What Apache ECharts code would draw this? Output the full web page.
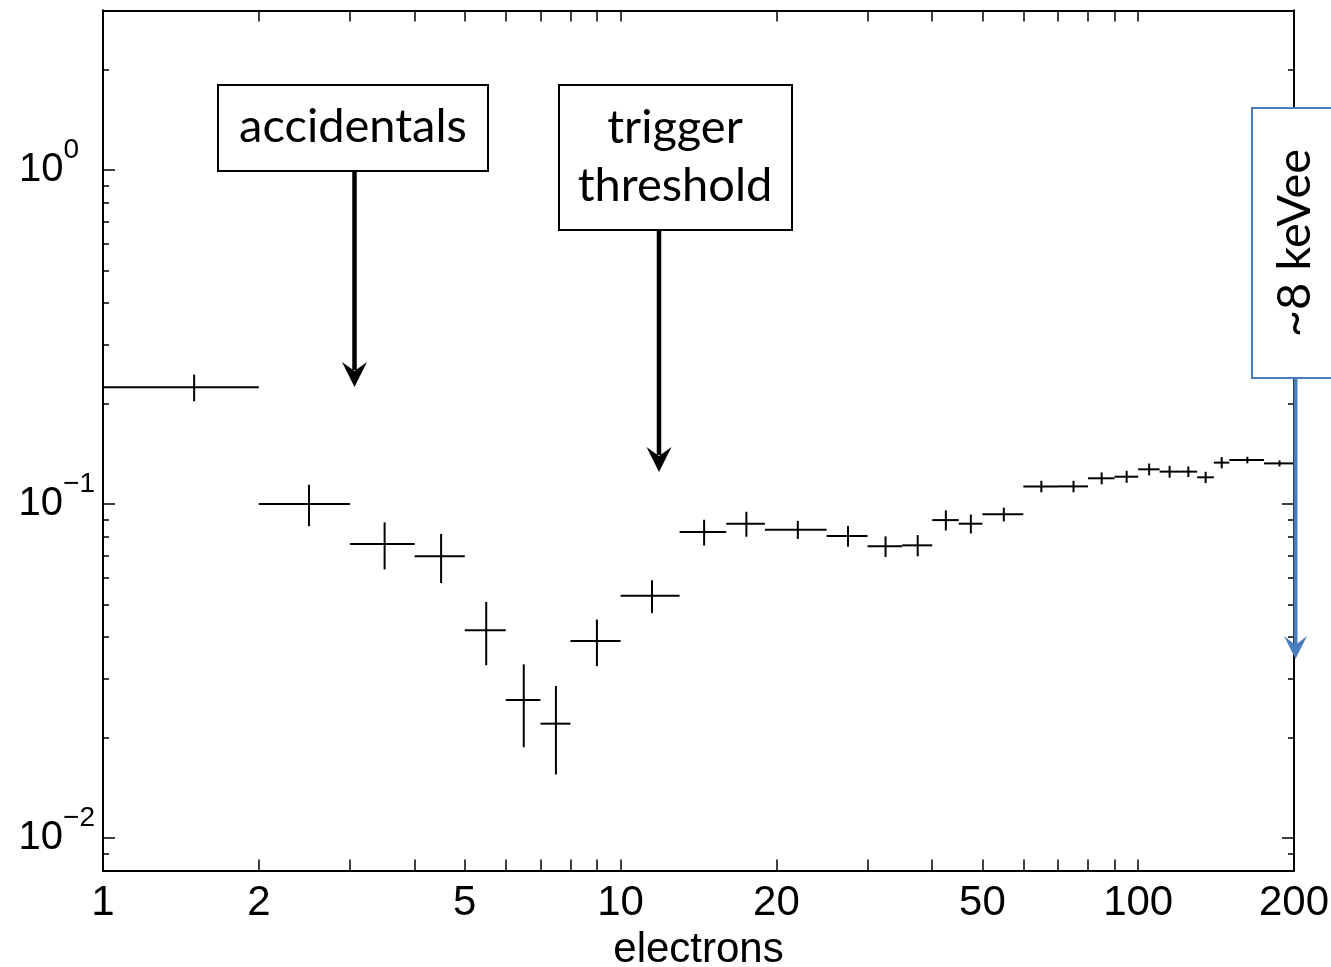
<!DOCTYPE html>
<html><head><meta charset="utf-8">
<script src="https://cdn.jsdelivr.net/npm/echarts@6/dist/echarts.min.js"></script>
<style>html,body{margin:0;padding:0;background:#fff}#c{width:1331px;height:967px}</style>
</head><body><div id="c"></div>
<script>
// ---- data ----
const binLo   = [1, 2, 3, 4, 5, 6, 7, 8, 10, 13, 16, 19, 25, 30, 35, 40, 45, 50, 60, 70, 80, 90, 100, 110, 120, 130, 140, 150, 175];
const binHi   = [2, 3, 4, 5, 6, 7, 8, 10, 13, 16, 19, 25, 30, 35, 40, 45, 50, 60, 70, 80, 90, 100, 110, 120, 130, 140, 150, 175, 200];
const xCenter = [1.5, 2.5, 3.5, 4.5, 5.5, 6.5, 7.5, 9, 11.5, 14.5, 17.5, 22, 27.5, 32.5, 37.5, 42.5, 47.5, 55, 65, 75, 85, 95, 105, 115, 125, 135, 145, 162.5, 187.5];
const yValue  = [0.2235, 0.100, 0.0759, 0.0697, 0.0419, 0.0259, 0.0220, 0.0389, 0.0531, 0.0824, 0.0873, 0.0838, 0.0802, 0.0747, 0.0752, 0.0895, 0.0873, 0.0931, 0.1129, 0.1129, 0.1194, 0.1207, 0.127, 0.125, 0.125, 0.1202, 0.133, 0.1354, 0.1323];
const yError  = [0.0205, 0.0142, 0.0122, 0.0117, 0.0090, 0.0072, 0.0065, 0.0062, 0.0060, 0.0073, 0.0075, 0.0052, 0.0057, 0.0053, 0.0055, 0.0062, 0.0057, 0.0044, 0.0045, 0.0045, 0.0049, 0.0050, 0.0052, 0.0051, 0.0046, 0.0047, 0.0052, 0.0031, 0.0028];

const xTickValues  = [2, 3, 4, 5, 6, 7, 8, 9, 10, 20, 30, 40, 50, 60, 70, 80, 90, 100];
const xLabelValues = [1, 2, 5, 10, 20, 50, 100, 200];
const yMajorValues = [0.01, 0.1, 1];
const yMinorValues = [0.009, 0.02, 0.03, 0.04, 0.05, 0.06, 0.07, 0.08, 0.09, 0.2, 0.3, 0.4, 0.5, 0.6, 0.7, 0.8, 0.9, 2];
const xTitle = 'electrons';
const noteAccidentals = 'accidentals';
const noteTrigger = ['trigger', 'threshold'];
const noteEnergy = '~8 keVee';

const rows = binLo.map((lo, i) => [lo, binHi[i], xCenter[i], yValue[i], yError[i]]);

const AX_FONT = '"Liberation Sans", Arial, Helvetica, sans-serif';
const NOTE_FONT = 'Lato, "Open Sans", sans-serif';
const BLUE = '#4A7EBB';

function xAxisDef(pos, showLabel) {
  return {
    type: 'log', logBase: 10, min: 1, max: 200, position: pos,
    axisLine: { show: true, onZero: false, lineStyle: { color: '#000', width: 2 } },
    axisTick: { show: true, inside: true, length: 11, customValues: xTickValues, lineStyle: { color: '#000', width: 1.5 } },
    axisLabel: {
      show: showLabel, customValues: xLabelValues, color: '#000', fontSize: 42, fontFamily: AX_FONT, margin: 12,
      formatter: v => String(Number(v.toPrecision(6)))
    },
    splitLine: { show: false }, minorTick: { show: false }, minorSplitLine: { show: false },
    name: showLabel ? xTitle : '', nameLocation: 'middle', nameGap: 53,
    nameTextStyle: { color: '#000', fontSize: 42, fontFamily: AX_FONT }
  };
}
function yAxisDef(pos, values, len, showLabel) {
  return {
    type: 'log', logBase: 10, min: 0.008, max: 3, position: pos,
    axisLine: { show: true, onZero: false, lineStyle: { color: '#000', width: 2 } },
    axisTick: { show: true, inside: true, length: len, customValues: values, lineStyle: { color: '#000', width: 1.5 } },
    axisLabel: {
      show: showLabel, customValues: yMajorValues, margin: 8, color: '#000',
      formatter: v => {
        const e = Math.round(Math.log10(v));
        return e < 0 ? '{b|10}{sn|\u2212' + (-e) + '}' : '{b|10}{sp|' + e + '}';
      },
      rich: {
        b: { fontSize: 40, fontFamily: AX_FONT, color: '#000', lineHeight: 40, verticalAlign: 'middle' },
        sn: { fontSize: 28, fontFamily: AX_FONT, color: '#000', lineHeight: 28, verticalAlign: 'middle', padding: [0, 0, 40, 0] },
        sp: { fontSize: 28, fontFamily: AX_FONT, color: '#000', lineHeight: 28, verticalAlign: 'middle', padding: [0, 16, 40, 0] }
      }
    },
    splitLine: { show: false }, minorTick: { show: false }, minorSplitLine: { show: false }
  };
}

const option = {
  backgroundColor: '#fff',
  animation: false,
  grid: { left: 103, right: 37, top: 10.6, bottom: 96.6, containLabel: false, outerBoundsMode: 'none' },
  xAxis: [xAxisDef('bottom', true), xAxisDef('top', false)],
  yAxis: [
    yAxisDef('left', yMajorValues, 12, true),
    yAxisDef('left', yMinorValues, 6, false),
    yAxisDef('right', yMajorValues, 12, false),
    yAxisDef('right', yMinorValues, 6, false)
  ],
  series: [{
    type: 'custom',
    xAxisIndex: 0, yAxisIndex: 0,
    data: rows,
    encode: { x: [0, 1, 2], y: [3] },
    clip: false,
    renderItem: (params, api) => {
      const y = api.value(3), e = api.value(4);
      const p1 = api.coord([api.value(0), y]);
      const p2 = api.coord([api.value(1), y]);
      const pc = api.coord([api.value(2), y]);
      const pt = api.coord([api.value(2), y + e]);
      const pb = api.coord([api.value(2), y - e]);
      const st = { stroke: '#000', lineWidth: 2 };
      return {
        type: 'group',
        children: [
          { type: 'line', shape: { x1: p1[0], y1: p1[1], x2: p2[0], y2: p2[1] }, style: st },
          { type: 'line', shape: { x1: pc[0], y1: pt[1], x2: pc[0], y2: pb[1] }, style: st }
        ]
      };
    }
  }],
  graphic: [
    // accidentals
    { type: 'rect', z: 100, shape: { x: 218, y: 85, width: 270, height: 86 }, style: { fill: '#fff', stroke: '#000', lineWidth: 2 } },
    { type: 'text', z: 101, x: 353, y: 127, style: { text: noteAccidentals, fill: '#000', fontSize: 47, fontFamily: NOTE_FONT, align: 'center', verticalAlign: 'middle' } },
    { type: 'line', z: 100, shape: { x1: 354.5, y1: 171, x2: 354.5, y2: 370 }, style: { stroke: '#000', lineWidth: 4.5 } },
    { type: 'polygon', z: 100, shape: { points: [[342, 362], [354.5, 371], [367, 362], [354.5, 387]] }, style: { fill: '#000' } },
    // trigger threshold
    { type: 'rect', z: 100, shape: { x: 559, y: 85, width: 233, height: 145 }, style: { fill: '#fff', stroke: '#000', lineWidth: 2 } },
    { type: 'text', z: 101, x: 675, y: 128, style: { text: noteTrigger[0], fill: '#000', fontSize: 47, fontFamily: NOTE_FONT, align: 'center', verticalAlign: 'middle' } },
    { type: 'text', z: 101, x: 675, y: 186, style: { text: noteTrigger[1], fill: '#000', fontSize: 47, fontFamily: NOTE_FONT, align: 'center', verticalAlign: 'middle' } },
    { type: 'line', z: 100, shape: { x1: 659, y1: 230, x2: 659, y2: 455 }, style: { stroke: '#000', lineWidth: 4.5 } },
    { type: 'polygon', z: 100, shape: { points: [[646.5, 447], [659, 456], [671.5, 447], [659, 472]] }, style: { fill: '#000' } },
    // ~8 keVee
    { type: 'rect', z: 100, shape: { x: 1252, y: 108, width: 100, height: 270 }, style: { fill: '#fff', stroke: BLUE, lineWidth: 2 } },
    { type: 'text', z: 101, x: 1295, y: 243, rotation: Math.PI / 2, style: { text: noteEnergy, fill: '#000', fontSize: 47, fontFamily: NOTE_FONT, align: 'center', verticalAlign: 'middle' } },
    { type: 'line', z: 100, shape: { x1: 1295.5, y1: 378, x2: 1295.5, y2: 645 }, style: { stroke: BLUE, lineWidth: 4 } },
    { type: 'polygon', z: 100, shape: { points: [[1284, 636], [1295.5, 645], [1307, 636], [1295.5, 659]] }, style: { fill: BLUE } }
  ]
};
const chart = echarts.init(document.getElementById('c'));
chart.setOption(option);
</script>
</body></html>
